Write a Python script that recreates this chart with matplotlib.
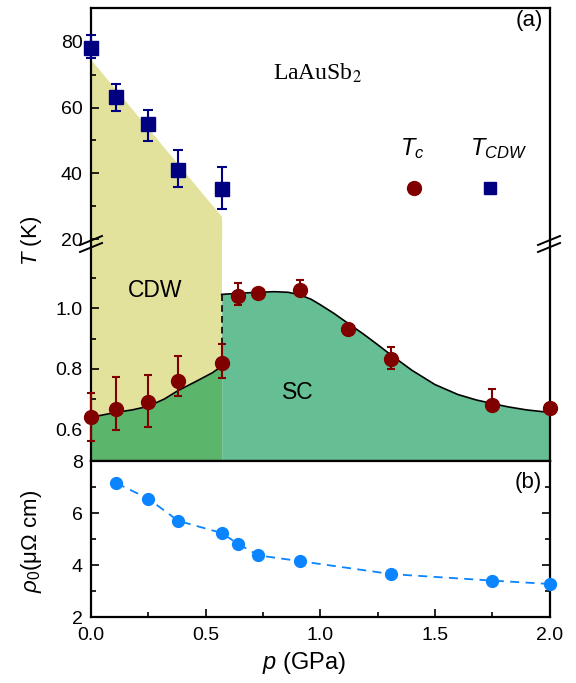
import numpy as np
import matplotlib
matplotlib.use("Agg")
from matplotlib import pyplot as plt
from matplotlib.lines import Line2D

plt.rcParams['font.family'] = ['Liberation Sans', 'DejaVu Sans']
plt.rcParams['mathtext.fontset'] = 'custom'
plt.rcParams['mathtext.rm'] = 'Liberation Sans'
plt.rcParams['mathtext.it'] = 'Liberation Sans:italic'

# CDW transition (top panel)
p_cdw = [0.0, 0.11, 0.25, 0.38, 0.57]
t_cdw = [78.2, 63.1, 55.0, 41.0, 35.2]
t_cdw_lo = [3.3, 4.1, 5.1, 5.0, 6.1]
t_cdw_hi = [3.9, 4.0, 4.2, 6.0, 6.8]
cdw_edge_p = [0.0, 0.57]
cdw_edge_t = [74.5, 26.9]

# superconducting Tc (middle panel)
p_sc = [0.0, 0.11, 0.25, 0.38, 0.57, 0.64, 0.73, 0.91, 1.12, 1.31, 1.75, 2.0]
tc = [0.64, 0.667, 0.689, 0.76, 0.819, 1.042, 1.052, 1.06, 0.931, 0.831, 0.679, 0.671]
tc_lo = [0.08, 0.069, 0.08, 0.049, 0.049, 0.03, 0.0, 0.0, 0.0, 0.031, 0.0, 0.0]
tc_hi = [0.08, 0.105, 0.091, 0.082, 0.063, 0.041, 0.0, 0.034, 0.0, 0.04, 0.053, 0.0]

# guide line for the SC dome
sc_left_p = [0.0, 0.05, 0.11, 0.18, 0.25, 0.32, 0.38, 0.45, 0.53, 0.57]
sc_left_t = [0.64, 0.647, 0.656, 0.664, 0.676, 0.70, 0.728, 0.755, 0.787, 0.809]
sc_right_p = [0.57, 0.65, 0.73, 0.80, 0.86, 0.91, 0.96, 1.0, 1.06, 1.12, 1.19, 1.25, 1.31,
              1.40, 1.50, 1.60, 1.68, 1.75, 1.82, 1.90, 1.96, 2.0]
sc_right_t = [1.046, 1.050, 1.053, 1.055, 1.053, 1.045, 1.03, 1.012, 0.983, 0.951, 0.914,
              0.88, 0.845, 0.795, 0.748, 0.715, 0.697, 0.685, 0.674, 0.664, 0.659, 0.656]

# residual resistivity (bottom panel)
p_rho = [0.11, 0.25, 0.38, 0.57, 0.64, 0.73, 0.91, 1.31, 1.75, 2.0]
rho0 = [7.15, 6.55, 5.7, 5.23, 4.82, 4.37, 4.15, 3.65, 3.4, 3.27]

yellow = '#e3e29c'
green_dark = '#5bb56b'
green_light = '#66be94'
navy = '#000080'
maroon = '#800000'
blue = '#0a84ff'

W, H = 576, 683
fig = plt.figure(figsize=(W / 100, H / 100), dpi=100)
left = 91 / W
width = (549.5 - 91) / W
ax1 = fig.add_axes([left, 1 - 240 / H, width, 232 / H])
ax2 = fig.add_axes([left, 1 - 461 / H, width, 221 / H])
ax3 = fig.add_axes([left, 1 - 617 / H, width, 156 / H])

for ax in (ax1, ax2, ax3):
    ax.set_xlim(0, 2.0)
    for s in ax.spines.values():
        s.set_linewidth(1.6)
    ax.tick_params(which='both', direction='in', labelsize=14, width=1.2)
    ax.tick_params(which='major', length=6)
    ax.tick_params(which='minor', length=3.5)
    ax.set_xticks([0, 0.5, 1.0, 1.5, 2.0])
    ax.set_xticks([0.25, 0.75, 1.25, 1.75], minor=True)

# top panel
ax1.set_ylim(19.8, 90.2)
ax1.spines['bottom'].set_visible(False)
ax1.tick_params(axis='x', which='both', bottom=False, labelbottom=False)
ax1.set_yticks([20, 40, 60, 80])
ax1.set_yticks([30, 50, 70], minor=True)
ax1.tick_params(axis='y', pad=6)
ax1.fill_between(cdw_edge_p, 0, cdw_edge_t, color=yellow, lw=0, zorder=1)
ax1.errorbar(p_cdw, t_cdw, yerr=[t_cdw_lo, t_cdw_hi], fmt='s', color=navy, ms=9.5,
             elinewidth=1.5, capsize=3.5, capthick=1.5, clip_on=False, zorder=5)
ax1.text(0.795, 70.5, 'LaAuSb$_2$', family=['Liberation Serif'], fontsize=17,
         va='center', ha='left', math_fontfamily='stix')
ax1.text(0.985, 0.944, '(a)', transform=ax1.transAxes, fontsize=16, ha='right', va='center')
ax1.text(1.40, 47.5, '$T_c$', fontsize=17, ha='center', va='center')
ax1.text(1.78, 47.5, '$T_{CDW}$', fontsize=17, ha='center', va='center')
ax1.plot([1.41], [35.6], 'o', color=maroon, ms=10)
ax1.plot([1.74], [35.6], 's', color=navy, ms=9)

# middle panel
ax2.set_ylim(0.495, 1.226)
ax2.spines['top'].set_visible(False)
ax2.tick_params(axis='x', which='both', labelbottom=False)
ax2.set_yticks([0.6, 0.8, 1.0])
ax2.set_yticks([0.7, 0.9, 1.1], minor=True)
ax2.set_yticklabels(['0.6', '0.8', '1.0'])
ax2.tick_params(axis='y', pad=6)
ax2.fill_between([0, 0.57], 0, 2, color=yellow, lw=0, zorder=1)
ax2.fill_between(sc_left_p, 0, sc_left_t, color=green_dark, lw=0, zorder=2)
ax2.fill_between(sc_right_p, 0, sc_right_t, color=green_light, lw=0, zorder=2)
ax2.plot(sc_left_p, sc_left_t, color='black', lw=1.2, zorder=3)
ax2.plot(sc_right_p, sc_right_t, color='black', lw=1.2, zorder=3)
ax2.plot([0.57, 0.57], [sc_left_t[-1], sc_right_t[0]], color='black', lw=1.2,
         ls=(0, (4, 2.5)), zorder=3)
ax2.errorbar(p_sc, tc, yerr=[tc_lo, tc_hi], fmt='o', color=maroon, ms=10,
             elinewidth=1.5, capsize=3, capthick=1.5, clip_on=False, zorder=5)
ax2.text(0.28, 1.06, 'CDW', fontsize=16.5, ha='center', va='center')
ax2.text(0.9, 0.72, 'SC', fontsize=16.5, ha='center', va='center')

# bottom panel
ax3.set_ylim(2, 8)
ax3.set_yticks([2, 4, 6, 8])
ax3.set_yticks([3, 5, 7], minor=True)
ax3.tick_params(axis='y', which='both', right=True, pad=6)
ax3.tick_params(axis='x', pad=7)
ax3.set_xticklabels(['0.0', '0.5', '1.0', '1.5', '2.0'])
ax3.plot(p_rho, rho0, 'o', color=blue, ms=8.5, ls=(0, (5, 3.5)), lw=1.3, clip_on=False, zorder=5)
ax3.text(0.984, 0.859, '(b)', transform=ax3.transAxes, fontsize=16, ha='right', va='center')

fig.text(304 / W, 1 - 663 / H, '$p$ (GPa)', fontsize=17, ha='center', va='center')
fig.text(32 / W, 1 - 241 / H, '$T$ (K)', rotation=90, fontsize=16, ha='center', va='center')
fig.text(32 / W, 1 - 541 / H, r'$\rho_0$(μΩ cm)', rotation=90, fontsize=16,
         ha='center', va='center')

# axis break marks
for x0 in (80, 538):
    for dy in (0, 7):
        y0 = 245 + dy
        fig.add_artist(Line2D([x0 / W, (x0 + 22) / W], [1 - y0 / H, 1 - (y0 - 9) / H],
                              color='black', lw=1.4))

fig.savefig('out.png', dpi=100)
